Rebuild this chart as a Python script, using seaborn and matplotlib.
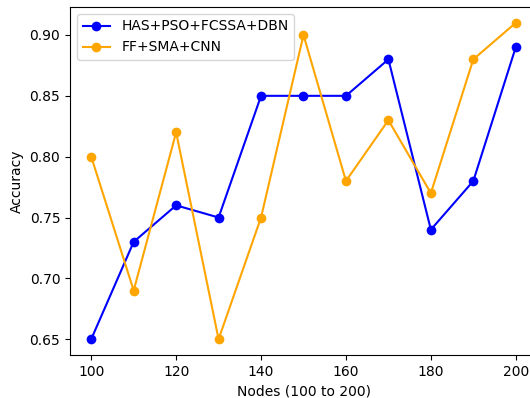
import matplotlib
matplotlib.use("Agg")
import matplotlib.pyplot as plt
import seaborn as sns
import pandas as pd

nodes = [100, 110, 120, 130, 140, 150, 160, 170, 180, 190, 200]
has_pso = [0.65, 0.73, 0.76, 0.75, 0.85, 0.85, 0.85, 0.88, 0.74, 0.78, 0.89]
ff_sma = [0.80, 0.69, 0.82, 0.65, 0.75, 0.90, 0.78, 0.83, 0.77, 0.88, 0.91]
labels = ["HAS+PSO+FCSSA+DBN", "FF+SMA+CNN"]

plt.rcParams['font.family'] = ['DejaVu Sans']
fig = plt.figure(figsize=(5.3, 3.98), dpi=100)
ax = fig.add_axes([70/530, 1-355/398, 467/530, 348/398])

df1 = pd.DataFrame({"Nodes": nodes, "Accuracy": has_pso})
df2 = pd.DataFrame({"Nodes": nodes, "Accuracy": ff_sma})
sns.lineplot(data=df1, x="Nodes", y="Accuracy", ax=ax, color="blue", marker="o",
             markersize=7, markeredgewidth=0, label=labels[0], linewidth=1.5)
sns.lineplot(data=df2, x="Nodes", y="Accuracy", ax=ax, color="orange", marker="o",
             markersize=7, markeredgewidth=0, label=labels[1], linewidth=1.5)

ax.set_xlabel("Nodes (100 to 200)")
ax.set_ylabel("Accuracy")
ax.set_xticks([100, 120, 140, 160, 180, 200])
ax.set_yticks([0.65, 0.70, 0.75, 0.80, 0.85, 0.90])
ax.legend(loc="upper left")
fig.savefig("out.png", dpi=100)
